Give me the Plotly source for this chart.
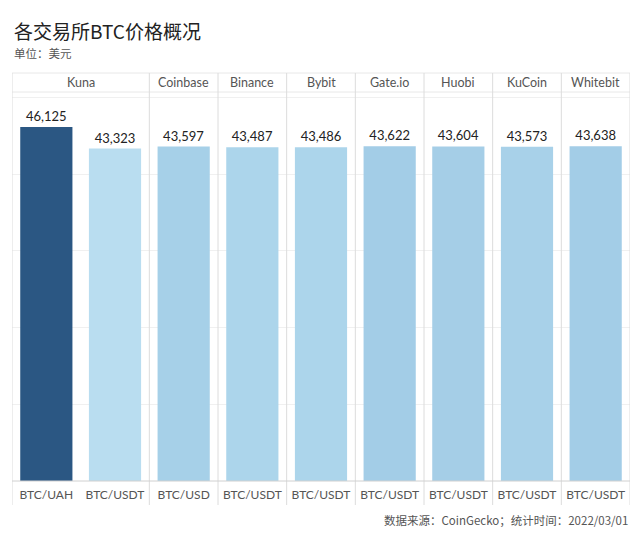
import plotly.graph_objects as go

exchanges = ["Kuna", "Kuna", "Coinbase", "Binance", "Bybit", "Gate.io", "Huobi", "KuCoin", "Whitebit"]
pairs = ["BTC/UAH", "BTC/USDT", "BTC/USD", "BTC/USDT", "BTC/USDT", "BTC/USDT", "BTC/USDT", "BTC/USDT", "BTC/USDT"]
prices = [46125, 43323, 43597, 43487, 43486, 43622, 43604, 43573, 43638]
colors = ["#2b5783", "#b9ddf0", "#a6d0e8", "#acd5eb", "#acd5eb", "#a3cde7", "#a5cee7", "#a8d1e9", "#a3cde7"]

xs = list(range(len(prices)))
fig = go.Figure(go.Bar(
    x=xs, y=prices, marker=dict(color=colors, line=dict(width=0)), width=0.76,
    text=[f"{v:,}" for v in prices], textposition="outside",
    textfont=dict(size=13, color="#222", family="Lato, sans-serif"), cliponaxis=False, hoverinfo="skip"))

H = 389.0
grid = "#e8e8e8"
shapes = []
for yy in [1 + 19 / H, 1]:
    shapes.append(dict(type="line", xref="paper", yref="paper", x0=0, x1=1, y0=yy, y1=yy, line=dict(color=grid, width=1)))
bounds = [-0.5, 1.5, 2.5, 3.5, 4.5, 5.5, 6.5, 7.5, 8.5]
for b in bounds:
    shapes.append(dict(type="line", xref="x", yref="paper", x0=b, x1=b, y0=-24 / H, y1=1 + 19 / H, line=dict(color="#dcdcdc", width=1)))
shapes.append(dict(type="line", xref="paper", yref="paper", x0=0, x1=1, y0=0, y1=0, line=dict(color="#d0d0d0", width=1)))

ann = []
heads = [("Kuna", 0.5), ("Coinbase", 2), ("Binance", 3), ("Bybit", 4), ("Gate.io", 5), ("Huobi", 6), ("KuCoin", 7), ("Whitebit", 8)]
for name, cx in heads:
    ann.append(dict(text=name, x=cx, xref="x", y=1 + 9.5 / H, yref="paper", showarrow=False,
                    font=dict(size=12.5, color="#555", family="Lato, sans-serif"), yanchor="middle"))
ann += [
    dict(text="各交易所BTC价格概况", xref="paper", yref="paper", x=0.3 / 618, y=1 + 61 / H,
         xanchor="left", yanchor="middle", showarrow=False, font=dict(size=19, color="#222")),
    dict(text="单位：美元", xref="paper", yref="paper", x=0.3 / 618, y=1 + 39 / H,
         xanchor="left", yanchor="middle", showarrow=False, font=dict(size=11.5, color="#555")),
    dict(text="数据来源：CoinGecko；统计时间：2022/03/01", xref="paper", yref="paper", x=1, y=-39 / H,
         xanchor="right", yanchor="middle", showarrow=False, font=dict(size=11.5, color="#555")),
]
fig.update_layout(
    width=641, height=542, margin=dict(l=12, r=11, t=92, b=61),
    plot_bgcolor="white", paper_bgcolor="white",
    font=dict(family="Noto Sans CJK SC, Lato, sans-serif"),
    showlegend=False,
    shapes=shapes, annotations=ann,
    xaxis=dict(tickmode="array", tickvals=xs, ticktext=pairs, range=[-0.5, 8.5], showgrid=False,
               tickfont=dict(size=12, color="#555", family="Lato, sans-serif"), ticks="",
               ticklabelstandoff=5, zeroline=False),
    yaxis=dict(range=[0, 50700], showticklabels=False, showgrid=True, gridcolor="#f0f0f0",
               dtick=10000, zeroline=False, fixedrange=True),
)
fig.write_html("out.html", config={"displayModeBar": False})
with open("out.html", encoding="utf-8") as f:
    html = f.read()
html = html.replace("<body>", '<body style="margin:0">', 1)
with open("out.html", "w", encoding="utf-8") as f:
    f.write(html)
